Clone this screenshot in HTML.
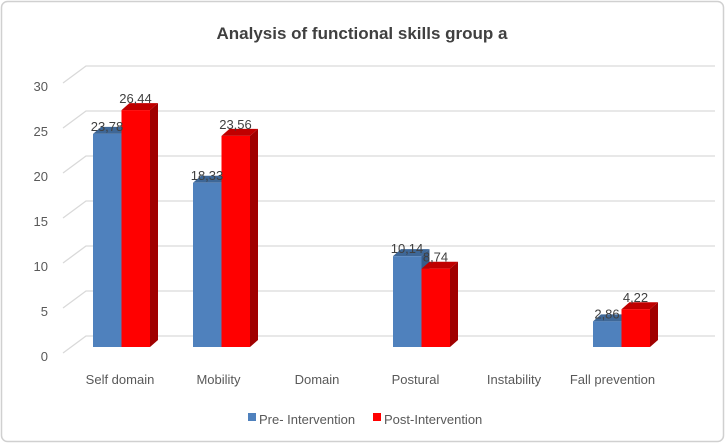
<!DOCTYPE html>
<html><head><meta charset="utf-8"><style>
html,body{margin:0;padding:0;background:#fff;}
svg{display:block;font-family:"Liberation Sans",Calibri,sans-serif;}
</style></head><body>
<svg id="chart" width="725" height="443" viewBox="0 0 725 443">
<rect x="1.5" y="1.5" width="722" height="440" rx="6" fill="#fff" stroke="#d0d0d0" stroke-width="1.5"/>
<text x="362" y="39" text-anchor="middle" font-size="17" fill="#404040" font-weight="bold">Analysis of functional skills group a</text>
<g id="grid"></g><g id="bars"></g><g id="labels"></g>
<g>
<rect x="248" y="413" width="8" height="8" fill="#4f81bd"/>
<text x="259" y="424" font-size="13" fill="#595959">Pre- Intervention</text>
<rect x="373" y="413" width="8" height="8" fill="#ff0000"/>
<text x="384" y="424" font-size="13" fill="#595959">Post-Intervention</text>
</g>
</svg>
<script>
const categories = ["Self domain","Mobility","Domain","Postural","Instability","Fall prevention"];
const preValues = [23.78,18.33,null,10.14,null,2.86];
const postValues = [26.44,23.56,null,8.74,null,4.22];
const preLabels = ["23,78","18,33","","10,14","","2,86"];
const postLabels = ["26,44","23,56","","8,74","","4,22"];
const yTicks = [0,5,10,15,20,25,30];

const NS="http://www.w3.org/2000/svg";
function mk(tag,attrs,parent){const e=document.createElementNS(NS,tag);for(const k in attrs)e.setAttribute(k,attrs[k]);parent.appendChild(e);return e;}
const grid=document.getElementById('grid'),bars=document.getElementById('bars'),labels=document.getElementById('labels');
const yFront=v=>347-v*8.96;
const yBack=v=>336-v*9;
const yLab=v=>357-v*9;
const xCat=i=>93+i*100;
const BW=28.5, DX=8, DY=7;

yTicks.forEach(t=>{
  const g=mk('g',{},grid);
  
  
  mk('polyline',{points:`63,${yLab(t)-4} 86,${yBack(t)} 715,${yBack(t)}`,fill:'none',stroke:'#d9d9d9','stroke-width':1.3},g);
  const tx=mk('text',{x:48,y:yLab(t)+4,'text-anchor':'end','font-size':13,fill:'#595959'},grid);
  tx.textContent=t;
  
  
});

function bar(x,v,front,top,side,name){
  if(v==null)return;
  const g=mk('g',{},bars);
  
  
  const y=yFront(v),b=347;
  mk('polygon',{points:`${x+BW},${y} ${x+BW+DX},${y-DY} ${x+BW+DX},${b-DY} ${x+BW},${b}`,fill:side},g);
  mk('polygon',{points:`${x},${y} ${x+DX},${y-DY} ${x+BW+DX},${y-DY} ${x+BW},${y}`,fill:top},g);
  mk('rect',{x:x,y:y,width:BW,height:b-y,fill:front},g);
}
categories.forEach((c,i)=>{
  const x=xCat(i);
  bar(x,preValues[i],'#4f81bd','#3e6797','#385d8a','bar-pre-'+i);
  bar(x+BW,postValues[i],'#ff0000','#c00000','#a00000','bar-post-'+i);
  if(preValues[i]!=null){
    const t=mk('text',{x:x+14,y:yFront(preValues[i])-3,'text-anchor':'middle','font-size':13,fill:'#404040'},labels);
    t.textContent=preLabels[i];
    
    
  }
  if(postValues[i]!=null){
    const t=mk('text',{x:x+BW+14,y:yFront(postValues[i])-7,'text-anchor':'middle','font-size':13,fill:'#404040'},labels);
    t.textContent=postLabels[i];
    
    
  }
  const cl=mk('text',{x:120+i*98.5,y:384,'text-anchor':'middle','font-size':13,fill:'#595959'},labels);
  cl.textContent=c;
  
  
});
</script>
</body></html>
